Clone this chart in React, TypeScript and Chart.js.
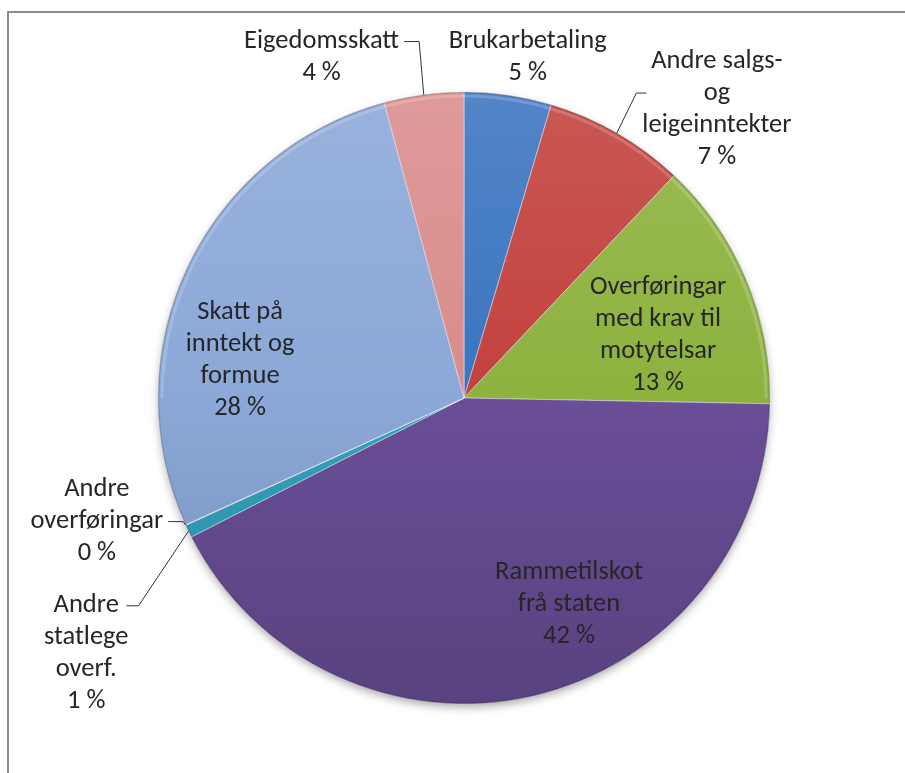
import React, { useEffect, useRef } from 'react';
import { Chart, registerables } from 'chart.js';

Chart.register(...registerables);

// ---- Data ----
const categories = [
  'Brukarbetaling',
  'Andre salgs- og leigeinntekter',
  'Overføringar med krav til motytelsar',
  'Rammetilskot frå staten',
  'Andre statlege overf.',
  'Andre overføringar',
  'Skatt på inntekt og formue',
  'Eigedomsskatt',
];
const shares = [4.6, 7.45, 13.25, 42.2, 0.67, 0.03, 27.6, 4.2];
const labelLines = [
  ['Brukarbetaling'],
  ['Andre salgs-', 'og', 'leigeinntekter'],
  ['Overføringar', 'med krav til', 'motytelsar'],
  ['Rammetilskot', 'frå staten'],
  ['Andre', 'statlege', 'overf.'],
  ['Andre', 'overføringar'],
  ['Skatt på', 'inntekt og', 'formue'],
  ['Eigedomsskatt'],
];

// ---- Styles ----
const sliceColors = ['#3a74c0', '#c2413d', '#8db23e', '#6a4e98', '#33a2bc', '#f08c3c', '#8ba8d8', '#d98c8b'];
const FONT = "26.5px Carlito, Lato, 'Noto Sans', sans-serif";
const LINE_H = 32;
const TEXT_COLOR = '#262626';

// label placement: angle (deg clockwise from top) and distance (in radii) of the label block centre
type Leader = { line: number; side: 'left' | 'right'; gap: number; len: number };
const labelLayout: { angle: number; dist: number; leader?: Leader }[] = [
  { angle: 10.6, dist: 1.132 },
  { angle: 41.2, dist: 1.255, leader: { line: 1, side: 'left', gap: -4, len: 10 } },
  { angle: 72.0, dist: 0.667 },
  { angle: 153.1, dist: 0.758 },
  { angle: 235.9, dist: 1.491, leader: { line: 0, side: 'right', gap: -2, len: 12 } },
  { angle: 251.4, dist: 1.266, leader: { line: 1, side: 'right', gap: 5, len: 15 } },
  { angle: 279.5, dist: 0.742 },
  { angle: 337.3, dist: 1.206, leader: { line: 0, side: 'right', gap: 5, len: 15 } },
];

function shade(hex: string, f: number): string {
  const n = parseInt(hex.slice(1), 16);
  let r = (n >> 16) & 255, g = (n >> 8) & 255, b = n & 255;
  if (f >= 0) {
    r = r + (255 - r) * f; g = g + (255 - g) * f; b = b + (255 - b) * f;
  } else {
    r = r * (1 + f); g = g * (1 + f); b = b * (1 + f);
  }
  return `rgb(${Math.round(r)},${Math.round(g)},${Math.round(b)})`;
}

const framePlugin = {
  id: 'frame',
  beforeDraw(chart: any) {
    const ctx = chart.ctx;
    ctx.save();
    ctx.fillStyle = '#ffffff';
    ctx.fillRect(0, 0, chart.width, chart.height);
    ctx.strokeStyle = '#8c8c8c';
    ctx.lineWidth = 2;
    ctx.beginPath();
    ctx.moveTo(8, chart.height);
    ctx.lineTo(8, 12);
    ctx.lineTo(chart.width, 12);
    ctx.stroke();
    ctx.restore();
  },
  beforeDatasetsDraw(chart: any) {
    const meta = chart.getDatasetMeta(0);
    const a = meta.data[0];
    if (!a) return;
    const ctx = chart.ctx;
    ctx.save();
    ctx.shadowColor = 'rgba(0,0,0,0.35)';
    ctx.shadowBlur = 10;
    ctx.shadowOffsetY = 4;
    ctx.fillStyle = '#6a4e98';
    ctx.beginPath();
    ctx.arc(a.x, a.y, a.outerRadius - 1, 0, Math.PI * 2);
    ctx.fill();
    ctx.restore();
  },
};

const labelPlugin = {
  id: 'sliceLabels',
  afterDatasetsDraw(chart: any) {
    const meta = chart.getDatasetMeta(0);
    const ctx = chart.ctx;
    const total = shares.reduce((s, v) => s + v, 0);
    ctx.save();
    // subtle bevel along the rim
    const a0 = meta.data[0];
    if (a0) {
      ctx.strokeStyle = 'rgba(0,0,0,0.18)';
      ctx.lineWidth = 1.5;
      ctx.beginPath();
      ctx.arc(a0.x, a0.y, a0.outerRadius - 0.5, 0, Math.PI * 2);
      ctx.stroke();
      ctx.strokeStyle = 'rgba(255,255,255,0.18)';
      ctx.lineWidth = 3;
      ctx.beginPath();
      ctx.arc(a0.x, a0.y, a0.outerRadius - 4, Math.PI, Math.PI * 2);
      ctx.stroke();
    }
    ctx.font = FONT;
    ctx.textAlign = 'center';
    ctx.textBaseline = 'middle';
    meta.data.forEach((arc: any, i: number) => {
      const lay = labelLayout[i];
      const cx = arc.x, cy = arc.y, r = arc.outerRadius;
      const ang = ((lay.angle - 90) * Math.PI) / 180;
      const bx = cx + Math.cos(ang) * lay.dist * r;
      const by = cy + Math.sin(ang) * lay.dist * r;
      const pct = Math.round((shares[i] / total) * 100) + ' %';
      const lines = [...labelLines[i], pct];
      const n = lines.length;
      const widths = lines.map((l) => ctx.measureText(l).width);
      const maxW = Math.max(...widths);
      ctx.fillStyle = TEXT_COLOR;
      lines.forEach((l, k) => {
        ctx.fillText(l, bx, by + (k - (n - 1) / 2) * LINE_H);
      });
      if (lay.leader) {
        const L = lay.leader;
        const ly = by + (L.line - (n - 1) / 2) * LINE_H;
        const dir = L.side === 'right' ? 1 : -1;
        const sx = bx + dir * (maxW / 2 + L.gap);
        const ex = sx + dir * L.len;
        const mid = (arc.startAngle + arc.endAngle) / 2;
        const px = cx + Math.cos(mid) * r;
        const py = cy + Math.sin(mid) * r;
        ctx.strokeStyle = '#333333';
        ctx.lineWidth = 1;
        ctx.beginPath();
        ctx.moveTo(sx, ly);
        ctx.lineTo(ex, ly);
        ctx.lineTo(px, py);
        ctx.stroke();
      }
    });
    ctx.restore();
  },
};

export default function App() {
  const ref = useRef<HTMLCanvasElement>(null);
  useEffect(() => {
    if (!ref.current) return;
    const chart = new Chart(ref.current, {
      type: 'pie',
      data: {
        labels: categories,
        datasets: [
          {
            data: shares,
            backgroundColor: (c: any) => {
              const base = sliceColors[c.dataIndex % sliceColors.length];
              const area = c.chart.chartArea;
              if (!area) return base;
              const g = c.chart.ctx.createLinearGradient(0, area.top, 0, area.bottom);
              g.addColorStop(0, shade(base, 0.12));
              g.addColorStop(0.5, base);
              g.addColorStop(1, shade(base, -0.16));
              return g;
            },
            borderColor: 'rgba(255,255,255,0.45)',
            borderWidth: 1,
          },
        ],
      },
      options: {
        responsive: false,
        animation: false,
        radius: 306,
        layout: { padding: { left: 158, right: 135, top: 92, bottom: 69 } },
        plugins: {
          legend: { display: false },
          tooltip: { enabled: false },
        },
      },
      plugins: [framePlugin, labelPlugin],
    });
    return () => chart.destroy();
  }, []);
  return (
    <div style={{ position: 'absolute', left: 0, top: 0, width: 905, height: 773 }}>
      <canvas ref={ref} width={905} height={773} style={{ display: 'block' }} />
    </div>
  );
}
